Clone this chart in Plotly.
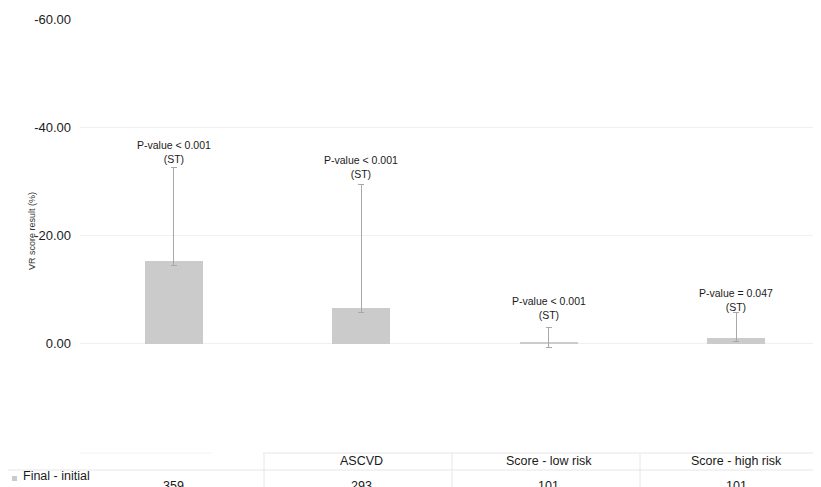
import plotly.graph_objects as go

# ---- data ----
categories = ["", "ASCVD", "Score - low risk", "Score - high risk"]
mean_change = [-15.2, -6.6, -0.2, -1.05]          # bar value (final - initial)
err_upper_end = [-32.6, -29.35, -2.95, -5.85]     # error bar end (towards -60)
err_lower_end = [-14.4, -5.8, 0.6, -0.4]          # error bar end (towards 0)
p_labels = ["P-value < 0.001<br>(ST)", "P-value < 0.001<br>(ST)",
            "P-value < 0.001<br>(ST)", "P-value = 0.047<br>(ST)"]
label_y = [-35.5, -32.6, -6.55, -8.0]
n_values = [359, 293, 101, 101]
series_name = "Final - initial"
y_ticks = [-60, -40, -20, 0]
y_tick_text = ["-60.00", "-40.00", "-20.00", "0.00"]

FONT = "Liberation Sans, Arial, Helvetica, sans-serif"
OFF = 8                      # page body margin in the browser
REF_W, REF_H = 821, 487
W, H = REF_W - OFF, REF_H - OFF
ML, MR, MT, MB = 80 - OFF, 0, 19 - OFF, REF_H - 452
PW, PH = W - ML - MR, H - MT - MB

def px_x(p):  # reference-picture pixel -> paper coordinate
    return (p - OFF - ML) / PW

def px_y(p):
    return (H - MB - (p - OFF)) / PH

xs = list(range(len(categories)))
arr_plus = [lo - v for lo, v in zip(err_lower_end, mean_change)]
arr_minus = [v - hi for hi, v in zip(err_upper_end, mean_change)]

fig = go.Figure()
fig.add_trace(go.Bar(
    x=xs, y=mean_change, width=0.31, name=series_name,
    marker=dict(color="#cbcbcb", line=dict(width=0)),
    error_y=dict(type="data", symmetric=False, array=arr_plus, arrayminus=arr_minus,
                 color="#a8a8a8", thickness=1, width=3),
    showlegend=False,
))

annotations = []
for x, t, ly in zip(xs, p_labels, label_y):
    annotations.append(dict(x=x, y=ly, xref="x", yref="y", text=t, showarrow=False,
                            font=dict(family=FONT, size=10.5, color="#1a1a1a"),
                            xanchor="center", yanchor="middle", align="center"))

# axis title
annotations.append(dict(x=px_x(32), y=px_y(231), xref="paper", yref="paper",
                        text="VR score result (%)", textangle=-90, showarrow=False,
                        font=dict(family=FONT, size=9, color="#333333"),
                        xanchor="center", yanchor="middle"))

# data table
header_cy = 461
for x, c in zip(xs, categories):
    if c:
        annotations.append(dict(x=x, y=px_y(header_cy), xref="x", yref="paper", text=c,
                                showarrow=False, font=dict(family=FONT, size=12.5, color="#1a1a1a"),
                                xanchor="center", yanchor="middle"))
for x, n in zip(xs, n_values):
    annotations.append(dict(x=x, y=px_y(477), xref="x", yref="paper", text=str(n),
                            showarrow=False, font=dict(family=FONT, size=12.5, color="#1a1a1a"),
                            xanchor="center", yanchor="top"))
annotations.append(dict(x=px_x(21), y=px_y(476), xref="paper", yref="paper", text=series_name,
                        showarrow=False, font=dict(family=FONT, size=12.5, color="#1a1a1a"),
                        xanchor="left", yanchor="middle"))

line_col = "#e6e6e6"
shapes = [
    dict(type="line", xref="paper", yref="paper", x0=px_x(263), x1=px_x(REF_W), y0=px_y(453), y1=px_y(453),
         line=dict(color=line_col, width=1)),
    dict(type="line", xref="paper", yref="paper", x0=px_x(80), x1=px_x(212), y0=px_y(453), y1=px_y(453),
         line=dict(color="#f2f2f2", width=1)),
    dict(type="line", xref="paper", yref="paper", x0=px_x(OFF), x1=px_x(REF_W), y0=px_y(470), y1=px_y(470),
         line=dict(color=line_col, width=1)),
    dict(type="rect", xref="paper", yref="paper", x0=px_x(12), x1=px_x(17), y0=px_y(481), y1=px_y(476),
         fillcolor="#cbcbcb", line=dict(width=0)),
]
for vx in [264, 452, 640]:
    shapes.append(dict(type="line", xref="paper", yref="paper", x0=px_x(vx), x1=px_x(vx),
                       y0=px_y(453), y1=px_y(REF_H + 5), line=dict(color=line_col, width=1)))

fig.update_layout(
    width=W, height=H,
    margin=dict(l=ML, r=MR, t=MT, b=MB, pad=0),
    paper_bgcolor="white", plot_bgcolor="white",
    font=dict(family=FONT, color="#1a1a1a"),
    xaxis=dict(range=[-0.5, -0.5 + PW / 187.5], showticklabels=False, showgrid=False,
               zeroline=False, showline=False, ticks=""),
    yaxis=dict(range=[20, -60], tickvals=y_ticks, ticktext=y_tick_text,
               tickfont=dict(family=FONT, size=13, color="#1a1a1a"),
               showgrid=True, gridcolor="#f0f0f0", gridwidth=1, zeroline=False,
               showline=False, ticks="", ticklabelstandoff=8),
    annotations=annotations, shapes=shapes,
    bargap=0,
)

fig.write_html("out.html")
